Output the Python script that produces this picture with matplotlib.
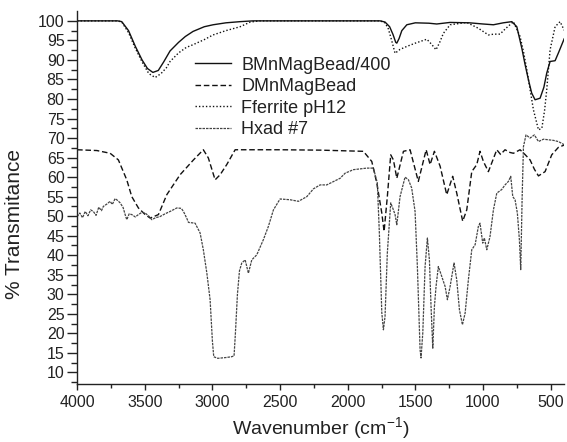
import matplotlib
matplotlib.use("Agg")
import matplotlib.pyplot as plt
import matplotlib.ticker as ticker

plt.rcParams['font.family'] = ['Liberation Sans', 'DejaVu Sans']
plt.rcParams['mathtext.fontset'] = 'custom'
plt.rcParams['mathtext.rm'] = 'Liberation Sans'

# BMnMagBead/400 (solid)
bmn_wn = [4000, 3700, 3670, 3620, 3570, 3520, 3480, 3440, 3400, 3360, 3313, 3250, 3200, 3143,
          3060, 2995, 2900, 2795, 2700, 1760, 1724, 1690, 1665, 1645, 1637, 1620, 1600, 1563,
          1500, 1400, 1342, 1268, 1243, 1100, 1000, 923, 850, 787, 750, 713, 690, 664, 640,
          615, 578, 550, 529, 504, 467, 440, 400]
bmn_t = [100, 100, 99.8, 97.5, 93.5, 90, 87.8, 86.8, 87.3, 89.5, 92.3, 94.5, 96, 97.3,
         98.5, 99, 99.5, 99.8, 100, 100, 99.7, 98.5, 96.5, 94.5, 94.3, 95.5, 97.5, 99,
         99.5, 99.4, 99.2, 99.5, 99.6, 99.5, 99.2, 99, 99.5, 99.8, 98.5, 93, 89, 84.9, 81.5,
         79.8, 80.2, 83, 86.6, 89.6, 89.8, 92, 95.4]

# DMnMagBead (dashed)
dmn_wn = [4000, 3854, 3756, 3695, 3633, 3596, 3547, 3500, 3460, 3399, 3337, 3239, 3140, 3067,
          3030, 2980, 2943, 2894, 2832, 2500, 2200, 1884, 1822, 1785, 1748, 1731, 1707, 1682,
          1662, 1637, 1588, 1539, 1478, 1420, 1391, 1359, 1317, 1268, 1224, 1194, 1150, 1120,
          1083, 1046, 1022, 997, 960, 898, 870, 837, 800, 775, 726, 690, 652, 620, 590, 541,
          492, 443, 400]
dmn_t = [67, 66.8, 66.1, 64.4, 59.3, 55, 52.1, 50.5, 49.5, 50.4, 55.5, 60.6, 64.4, 67,
         64.9, 59.3, 60.6, 63.2, 67, 67, 66.9, 66.6, 64, 58.5, 50.8, 46.1, 55, 65.7,
         64.4, 59.7, 66.6, 67, 58.9, 67, 63.2, 66.6, 62.8, 55.5, 60.2, 55.9, 48.7, 51.6,
         61.4, 63.2, 66.6, 64, 61.4, 67, 65.8, 67, 66.3, 66.1, 67, 65.8, 64.4, 62, 60.3, 61.4,
         65.7, 67.6, 68.2]

# Fferrite pH12 (dotted)
ffe_wn = [4000, 3700, 3670, 3620, 3570, 3520, 3470, 3423, 3380, 3340, 3313, 3250, 3193, 3143,
          3060, 2995, 2900, 2795, 2720, 2650, 1760, 1724, 1700, 1675, 1650, 1613, 1560, 1500,
          1415, 1380, 1347, 1320, 1293, 1243, 1120, 1034, 960, 920, 874, 837, 775, 726, 700,
          676, 650, 627, 590, 565, 545, 529, 504, 467, 430, 400]
ffe_t = [100, 100, 99.7, 97, 93, 89.5, 86.5, 85.5, 86.5, 88, 89.6, 91.8, 93.2, 93.9,
         95.2, 96.4, 97.5, 98.5, 99.7, 100, 100, 99.5, 98, 95, 91.7, 92.7, 93.5, 94.3,
         95.3, 94, 92.6, 94.5, 96.8, 99, 99.6, 98.1, 96.4, 96.6, 96.6, 97.9, 99.8, 96, 92,
         87.5, 82, 77.2, 72.1, 72.5, 77, 82.3, 92.6, 98.5, 99.8, 97.6]

# Hxad #7 (fine dotted)
hx_wn = [4000, 3980, 3960, 3940, 3920, 3900, 3880, 3860, 3840, 3820, 3806, 3780, 3756, 3740,
         3719, 3700, 3682, 3660, 3645, 3633, 3615, 3596, 3570, 3547, 3520, 3497, 3470, 3448,
         3420, 3387, 3350, 3313, 3263, 3230, 3214, 3190, 3177, 3128, 3091, 3067, 3041, 3017,
         3000, 2990, 2960, 2900, 2860, 2840, 2830, 2815, 2800, 2783, 2758, 2734, 2709, 2672,
         2623, 2586, 2549, 2500, 2426, 2364, 2302, 2253, 2204, 2155, 2056, 2019, 1958, 1859,
         1810, 1781, 1766, 1748, 1736, 1724, 1707, 1682, 1662, 1650, 1637, 1613, 1576, 1551,
         1527, 1502, 1485, 1465, 1458, 1445, 1428, 1411, 1396, 1384, 1371, 1359, 1347, 1330,
         1313, 1293, 1280, 1263, 1243, 1214, 1194, 1174, 1152, 1132, 1108, 1083, 1058, 1034,
         1022, 1002, 990, 972, 948, 923, 898, 862, 837, 812, 795, 780, 763, 746, 731, 721,
         711, 701, 682, 652, 620, 590, 553, 479, 443, 400]
hx_t = [49.9, 50.8, 49.6, 51.2, 50.1, 51.6, 51.2, 50.2, 52.3, 51.4, 52.5, 53.1, 53.8, 53.0,
        54.5, 54.0, 53.4, 52.2, 50.4, 49.1, 50.6, 50.4, 49.8, 50.4, 51.0, 50.8, 50.0, 49.1,
        49.6, 49.9, 50.6, 51.2, 52.1, 52.0, 51.2, 49.5, 48.4, 48.2, 45.7, 41.4, 35.4, 28.6,
        18, 14, 13.6, 13.8, 14.0, 14.2, 20, 30, 36, 38, 38.8, 35.4, 38.8, 40.1,
        44, 47.4, 51.6, 54.4, 54.2, 53.8, 55, 57, 58, 58, 59.7, 61, 61.9, 62.3,
        62.3, 58.5, 45.7, 25.3, 20.9, 24.3, 40.6, 53.4, 51.6, 50.4, 47.8, 55, 60, 59.3,
        57.2, 51.2, 37.1, 15.8, 13.7, 20.1, 37.1, 44.4, 38.8, 26.9, 16.2, 26.9, 32, 37.1,
        35.4, 33.3, 32, 28.6, 32, 38, 33.7, 26, 22.2, 25.2, 33.7, 41.4, 42.7, 47.4,
        48.2, 43.1, 44.4, 41.4, 44.8, 51.6, 55.9, 56.8, 58, 58.9, 60.2, 55, 54.2, 50.8, 44, 36.3,
        54.2, 67.8, 70.8, 70, 70.8, 69.1, 69.7, 69.4, 69.1, 68.3]

fig = plt.figure(figsize=(5.67, 4.42), dpi=100)
ax = fig.add_axes([0.136, 0.131, 0.859, 0.843])

ax.plot(bmn_wn, bmn_t, color='#111111', lw=1.0, ls='-', label='BMnMagBead/400')
ax.plot(dmn_wn, dmn_t, color='#111111', lw=1.0, ls=(0, (4, 2)), label='DMnMagBead')
ax.plot(ffe_wn, ffe_t, color='#111111', lw=1.0, ls=(0, (1, 1.5)), label='Fferrite pH12')
ax.plot(hx_wn, hx_t, color='#444444', lw=0.9, ls=(0, (2, 0.8)), label='Hxad #7')

ax.set_xlim(4000, 400)
ax.set_ylim(7, 102.4)
ax.xaxis.set_major_locator(ticker.MultipleLocator(500))
ax.xaxis.set_minor_locator(ticker.MultipleLocator(250))
ax.yaxis.set_minor_locator(ticker.MultipleLocator(2.5))
ax.set_yticks(range(10, 101, 5))

for s in ['top', 'right']:
    ax.spines[s].set_visible(False)
for s in ['left', 'bottom']:
    ax.spines[s].set_color('#222222')
    ax.spines[s].set_linewidth(1.0)

ax.tick_params(axis='x', which='major', direction='out', length=4.5, width=1, labelsize=11.5,
               colors='#222222', pad=3)
ax.tick_params(axis='x', which='minor', direction='out', length=3, width=1, colors='#222222')
ax.tick_params(axis='y', which='major', direction='out', length=7, width=1, labelsize=11.5,
               colors='#222222', pad=2)
ax.tick_params(axis='y', which='minor', direction='out', length=4, width=1, colors='#222222')

ax.set_xlabel(r'Wavenumber (cm$^{\mathregular{-1}}$)', fontsize=14, color='#222222', labelpad=4)
ax.set_ylabel('% Transmitance', fontsize=15, color='#222222')
ax.yaxis.set_label_coords(-0.11, 0.43)

ax.legend(loc='upper left', bbox_to_anchor=(0.242, 0.879), frameon=False, fontsize=13,
          handlelength=2.0, handletextpad=0.55, labelspacing=0.25, borderpad=0,
          borderaxespad=0, labelcolor='#222222')

fig.savefig('out.png', dpi=100)
